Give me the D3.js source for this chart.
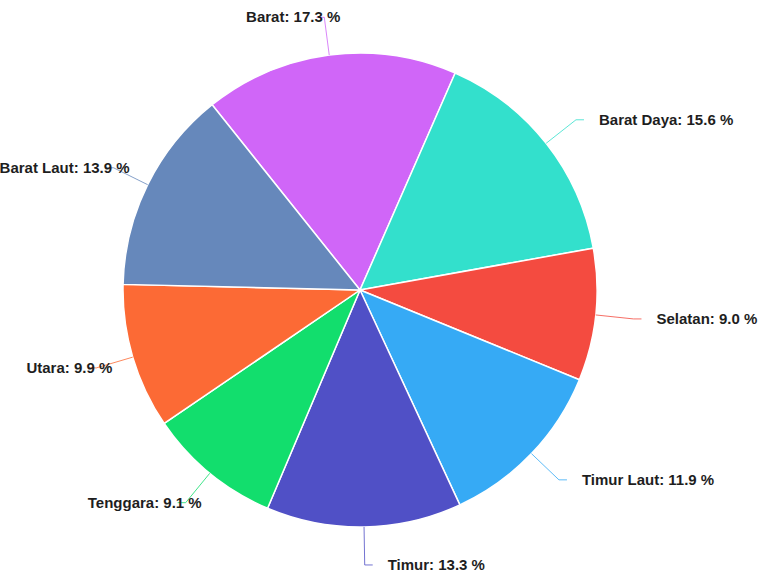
<!DOCTYPE html>
<html>
<head>
<meta charset="utf-8">
<script src="https://cdn.jsdelivr.net/npm/d3@7"></script>
<style>
  html, body { margin: 0; padding: 0; background: #ffffff; }
  svg { display: block; }
  .lbl { font-family: "Liberation Sans", Arial, sans-serif; font-weight: bold; font-size: 15px; fill: #1e1e1e; }
</style>
</head>
<body>
<svg id="chart" width="761" height="576"></svg>
<script>
// Arah mata angin dan persentasenya (urutan searah jarum jam)
const categories = ["Barat", "Barat Daya", "Selatan", "Timur Laut", "Timur", "Tenggara", "Utara", "Barat Laut"];
const values = [17.3, 15.6, 9.0, 11.9, 13.3, 9.1, 9.9, 13.9];
const colors = ["#d066f8", "#33e0cc", "#f44b40", "#36aaf5", "#5050c6", "#12de6d", "#fc6a35", "#6688bb"];

const width = 761, height = 576;
const cx = 360, cy = 290, radius = 237;
const startDeg = -38.6;

const svg = d3.select("#chart");
const g = svg.append("g").attr("transform", `translate(${cx},${cy})`);

const data = categories.map((c, i) => ({ name: c, value: values[i], color: colors[i] }));

const pie = d3.pie()
  .sort(null)
  .value(d => d.value)
  .startAngle(startDeg * Math.PI / 180)
  .endAngle(startDeg * Math.PI / 180 + 2 * Math.PI);

const arcs = pie(data);
const arc = d3.arc().innerRadius(0).outerRadius(radius);

g.selectAll("path.slice")
  .data(arcs)
  .join("path")
  .attr("class", "slice")
  .attr("d", arc)
  .attr("fill", d => d.data.color)
  .attr("stroke", "#ffffff")
  .attr("stroke-width", 1.5);

// Garis penghubung label: radial keluar, lalu sedikit mendatar
const lineOuter = radius + 38;
const elbow = 8;
function pt(a, r) { return [r * Math.sin(a), -r * Math.cos(a)]; }

arcs.forEach(d => {
  const mid = (d.startAngle + d.endAngle) / 2;
  const p0 = pt(mid, radius);
  const p1 = pt(mid, lineOuter);
  const right = Math.sin(mid) >= 0;
  const p2 = [p1[0] + (right ? elbow : -elbow), p1[1]];

  g.append("polyline")
    .attr("points", [p0, p1, p2].map(p => p.join(",")).join(" "))
    .attr("fill", "none")
    .attr("stroke", d.data.color)
    .attr("stroke-width", 1)
    .attr("opacity", 0.8);

  g.append("text")
    .attr("class", "lbl")
    .attr("x", right ? p2[0] + 15 : p1[0] + 16)
    .attr("y", p1[1] + 1)
    .attr("dominant-baseline", "middle")
    .attr("text-anchor", right ? "start" : "end")
    .text(`${d.data.name}: ${d3.format(".1f")(d.data.value)} %`);
});
</script>
</body>
</html>
